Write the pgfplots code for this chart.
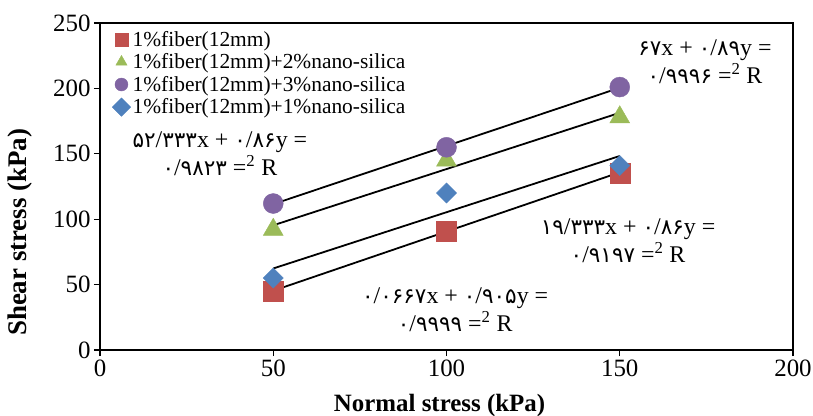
\documentclass[border=0pt]{standalone}
\usepackage{fontspec}
\setmainfont{Liberation Serif}
\newfontfamily\fa{DejaVu Sans}[Scale=0.9]
\usepackage{pgfplots}
\pgfplotsset{compat=1.18}

\definecolor{serRed}{HTML}{C0504D}
\definecolor{serGreen}{HTML}{9BBB59}
\definecolor{serPurple}{HTML}{8064A2}
\definecolor{serBlue}{HTML}{4F81BD}

% Persian digits set in a font that has them
\newcommand{\fn}[1]{{\fa #1}}

\begin{document}
\begin{tikzpicture}
\begin{axis}[
  name=ax,
  width=693bp, height=327bp, scale only axis,
  xmin=0, xmax=200, ymin=0, ymax=250,
  xtick={0,50,...,200}, ytick={0,50,...,250},
  tick pos=left, tick align=outside, major tick length=6bp,
  axis line style={line width=1.2bp},
  every tick/.style={black, line width=1.2bp},
  /pgf/number format/assume math mode=true,
  tick label style={font=\fontsize{25}{25}\selectfont},
  xlabel={\textbf{Normal stress (kPa)}},
  ylabel={\textbf{Shear stress (kPa)}},
  xlabel style={font=\fontsize{25}{25}\selectfont, at={(axis description cs:0.49,-0.17)}, anchor=center},
  ylabel style={font=\fontsize{27}{27}\selectfont, at={(axis description cs:-0.116,0.36)}, anchor=center},
  legend style={font=\fontsize{21.5}{22}\selectfont, draw=none, fill=none,
    at={(axis description cs:0.016,0.985)}, anchor=north west,
    row sep=2bp, inner sep=1bp},
  legend cell align=left,
  legend image post style={mark size=6.5bp},
]
% measured points
\addplot[only marks, mark=square*, mark size=10bp, color=serRed]
  coordinates {(50,45) (100,91.2) (150,135.5)};
\addlegendentry{1\%fiber(12mm)}
\addplot[only marks, mark=triangle*, mark size=11.5bp, color=serGreen]
  coordinates {(50,92) (100,145) (150,178)};
\addlegendentry{1\%fiber(12mm)+2\%nano-silica}
\addplot[only marks, mark=*, mark size=10bp, color=serPurple]
  coordinates {(50,112) (100,155) (150,201)};
\addlegendentry{1\%fiber(12mm)+3\%nano-silica}
\addplot[only marks, mark=square*, mark size=7.1bp, mark options={rotate=45}, color=serBlue]
  coordinates {(50,55) (100,120) (150,141)};
\addlegendentry{1\%fiber(12mm)+1\%nano-silica}

% linear trend lines
\addplot[forget plot, black, line width=1.8bp] coordinates {(50,45.3167) (150,135.8167)};
\addplot[forget plot, black, line width=1.8bp] coordinates {(50,95.333) (150,181.333)};
\addplot[forget plot, black, line width=1.8bp] coordinates {(50,111.5) (150,200.5)};
\addplot[forget plot, black, line width=1.8bp] coordinates {(50,62.333) (150,148.333)};

% trend line equations
\node[align=center, font=\fontsize{24}{28}\selectfont] at (axis cs:34.6,149.8)
  {\fn{۵۲}/\fn{۳۳۳}x + \fn{۰}/\fn{۸۶}y =\\ \fn{۰}/\fn{۹۸۲۳} =\textsuperscript{2} R};
\node[align=center, font=\fontsize{24}{28}\selectfont] at (axis cs:174.6,220.2)
  {\fn{۶۷}x + \fn{۰}/\fn{۸۹}y =\\ \fn{۰}/\fn{۹۹۹۶} =\textsuperscript{2} R};
\node[align=center, font=\fontsize{24}{28}\selectfont] at (axis cs:152.4,83.3)
  {\fn{۱۹}/\fn{۳۳۳}x + \fn{۰}/\fn{۸۶}y =\\ \fn{۰}/\fn{۹۱۹۷} =\textsuperscript{2} R};
\node[align=center, font=\fontsize{24}{28}\selectfont] at (axis cs:102.5,30.6)
  {\fn{۰}/\fn{۰۶۶۷}x + \fn{۰}/\fn{۹۰۵}y =\\ \fn{۰}/\fn{۹۹۹۹} =\textsuperscript{2} R};
\end{axis}
\pgfresetboundingbox
\path ([shift={(-100bp,-66bp)}]ax.south west) rectangle ([shift={(20bp,23bp)}]ax.north east);
\end{tikzpicture}
\end{document}
